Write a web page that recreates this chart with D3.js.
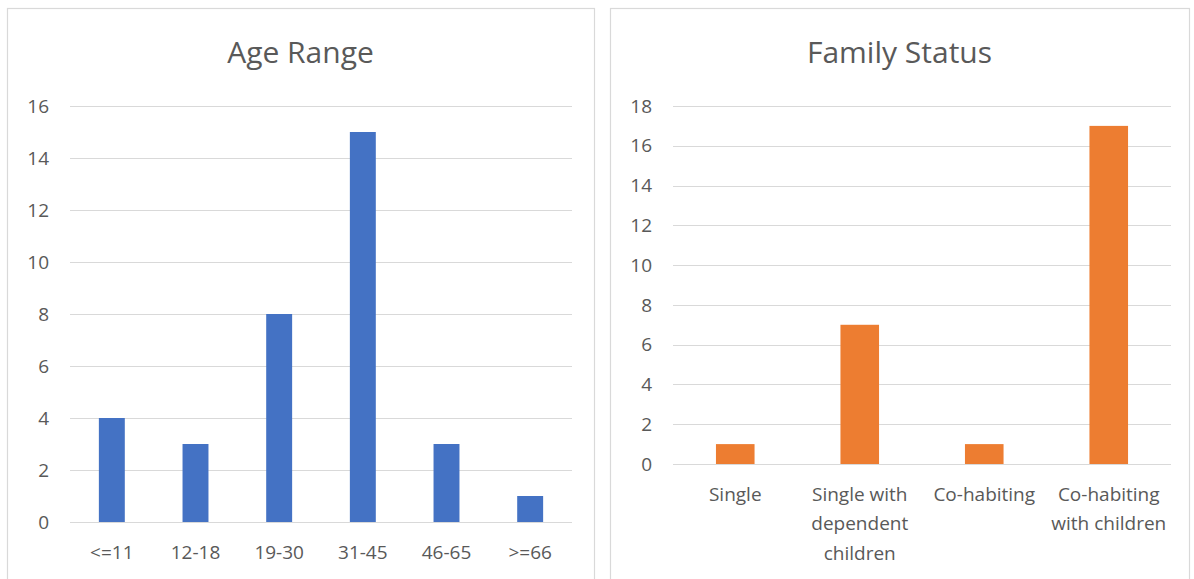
<!DOCTYPE html>
<html>
<head>
<meta charset="utf-8">
<script src="https://cdn.jsdelivr.net/npm/d3@7"></script>
<style>
    body { margin: 0; background: #fff; }
    svg { display: block; font-family: "Open Sans", sans-serif; }
    .grid line { stroke: #d9d9d9; stroke-width: 1; }
    .tick_label { fill: #595959; font-size: 19px; }
    .title { fill: #595959; font-size: 30px; }
    .panel { fill: #fff; stroke: #d9d9d9; stroke-width: 1.2; }
</style>
</head>
<body>
<div id="charts"></div>
<script>
const age_categories = ["<=11", "12-18", "19-30", "31-45", "46-65", ">=66"];
const age_counts = [4, 3, 8, 15, 3, 1];
const age_ticks = [0, 2, 4, 6, 8, 10, 12, 14, 16];

const family_categories = ["Single", "Single with dependent children",
                           "Co-habiting", "Co-habiting with children"];
// how excel wrapped the category labels
const family_label_lines = [["Single"], ["Single with", "dependent", "children"],
                            ["Co-habiting"], ["Co-habiting", "with children"]];
const family_counts = [1, 7, 1, 17];
const family_ticks = [0, 2, 4, 6, 8, 10, 12, 14, 16, 18];

let svg = d3.select("#charts").append("svg")
    .attr("width", 1194)
    .attr("height", 579);

function bar_chart(opts) {
    let g = svg.append("g");

    g.append("rect")
        .attr("class", "panel")
        .attr("x", opts.panel[0] + 0.5)
        .attr("y", 8.5)
        .attr("width", opts.panel[1] - opts.panel[0])
        .attr("height", 600);

    g.append("text")
        .attr("class", "title")
        .attr("text-anchor", "middle")
        .attr("x", (opts.panel[0] + opts.panel[1]) / 2)
        .attr("y", 63)
        .text(opts.title);

    let x = d3.scaleBand()
        .domain(opts.categories)
        .range([opts.left, opts.right])
        .paddingInner(0.69)
        .paddingOuter(0.345);
    let y = d3.scaleLinear()
        .domain([0, d3.max(opts.ticks)])
        .range([opts.bottom, 106]);

    g.append("g")
        .attr("class", "grid")
        .selectAll("line")
        .data(opts.ticks)
        .join("line")
        .attr("x1", opts.left)
        .attr("x2", opts.right)
        .attr("y1", d => Math.round(y(d)) + 0.5)
        .attr("y2", d => Math.round(y(d)) + 0.5);

    g.append("g")
        .selectAll("text")
        .data(opts.ticks)
        .join("text")
        .attr("class", "tick_label")
        .attr("text-anchor", "end")
        .attr("x", opts.tick_x)
        .attr("y", d => y(d))
        .attr("dy", "0.35em")
        .text(d => d);

    g.append("g")
        .selectAll("rect")
        .data(opts.values)
        .join("rect")
        .attr("x", (d, i) => x(opts.categories[i]))
        .attr("width", x.bandwidth())
        .attr("y", d => y(d))
        .attr("height", d => y(0) - y(d))
        .attr("fill", opts.color);

    let labels = g.append("g")
        .selectAll("text")
        .data(opts.categories)
        .join("text")
        .attr("class", "tick_label")
        .attr("text-anchor", "middle")
        .attr("x", d => x(d) + x.bandwidth() / 2)
        .attr("y", opts.bottom + 30)
        .attr("dy", "0.35em");
    labels.selectAll("tspan")
        .data((d, i) => opts.lines[i])
        .join("tspan")
        .attr("x", function() { return this.parentNode.getAttribute("x"); })
        .attr("dy", (d, i) => i == 0 ? "0.35em" : "29.5px")
        .text(d => d);
}

bar_chart({
    title: "Age Range",
    panel: [7, 594],
    left: 70, right: 572, bottom: 522, tick_x: 49,
    categories: age_categories,
    lines: age_categories.map(c => [c]),
    values: age_counts,
    ticks: age_ticks,
    color: "#4472c4"
});

bar_chart({
    title: "Family Status",
    panel: [610, 1189],
    left: 673, right: 1171, bottom: 464, tick_x: 652,
    categories: family_categories,
    lines: family_label_lines,
    values: family_counts,
    ticks: family_ticks,
    color: "#ed7d31"
});
</script>
</body>
</html>
